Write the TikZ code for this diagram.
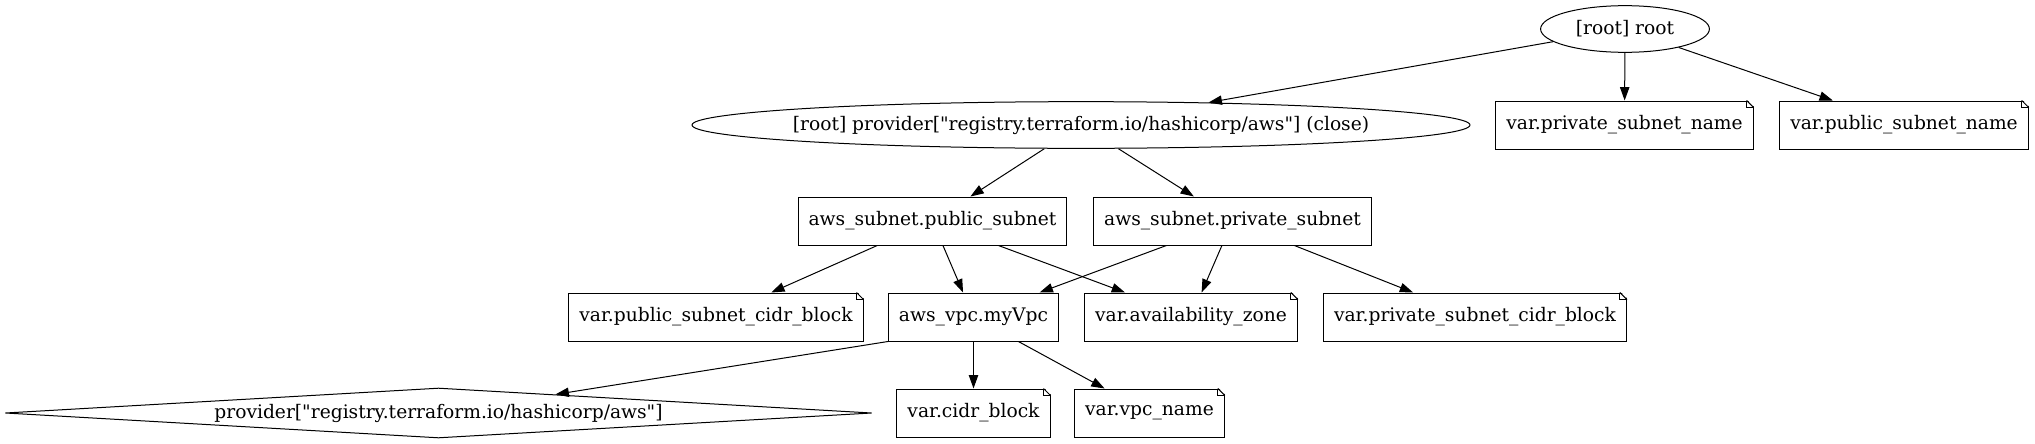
\documentclass[tikz,border=0pt]{standalone}
\usepackage{fontspec}
\setmainfont{DejaVu Serif}[Ligatures=TeXOff]
\usetikzlibrary{shapes.geometric,arrows.meta}

\begin{document}
\begin{tikzpicture}[x=0.75pt, y=-0.75pt,
  every node/.style={font=\fontsize{14}{16}\selectfont},
  res/.style={draw, rectangle, line width=0.75pt, minimum height=36pt, inner xsep=7.9pt},
  note/.style={res},
  oval/.style={draw, ellipse, line width=0.75pt, minimum height=35pt, inner xsep=7.9pt, inner ysep=0pt},
  prov/.style={draw, diamond, line width=0.75pt, aspect=17.3, minimum width=650pt, minimum height=37.5pt, inner sep=0pt},
  edge/.style={-{Triangle[length=10pt,width=7pt]}, line width=0.75pt}]
\useasboundingbox (0, 0) rectangle (2035, 443);

\node[oval, minimum width=117pt] (root) at (1625, 29) {[root] root};
\node[oval, inner xsep=0pt, minimum width=583.5pt] (provclose) at (1081, 125) {\makebox[412pt]{[root] provider["registry.terraform.io/hashicorp/aws"] (close)}};
\node[note] (privname) at (1624.5, 125) {var.private\_subnet\_name};
\node[note] (pubname) at (1904, 125) {var.public\_subnet\_name};

\node[res] (pubsubnet) at (932.5, 221) {aws\_subnet.public\_subnet};
\node[res] (privsubnet) at (1232.5, 221) {aws\_subnet.private\_subnet};

\node[note] (pubcidr) at (716, 317) {var.public\_subnet\_cidr\_block};
\node[res] (vpc) at (973.5, 317) {aws\_vpc.myVpc};
\node[note] (az) at (1191, 317) {var.availability\_zone};
\node[note] (privcidr) at (1475, 317) {var.private\_subnet\_cidr\_block};

\node[prov] (provider) at (438.5, 413) {provider["registry.terraform.io/hashicorp/aws"]};
\node[note] (cidr) at (973.5, 413) {var.cidr\_block};
\node[note] (vpcname) at (1149.5, 413) {var.vpc\_name};

% folded corners of the variable notes
\foreach \n in {privname, pubname, pubcidr, az, privcidr, cidr, vpcname} {
  \fill[white] ([xshift=-5.3pt, yshift=1pt]\n.north east) -- ([xshift=1pt, yshift=1pt]\n.north east) -- ([xshift=1pt, yshift=-5.3pt]\n.north east) -- cycle;
  \draw[line width=0.75pt] ([xshift=-5.3pt]\n.north east) -- ([yshift=-5.3pt]\n.north east);
  \draw[line width=0.75pt] ([xshift=-5.3pt]\n.north east) |- ([yshift=-5.3pt]\n.north east);
}

\draw[edge] (root) -- (provclose);
\draw[edge] (root) -- (privname);
\draw[edge] (root) -- (pubname);

\draw[edge] (provclose) -- (pubsubnet);
\draw[edge] (provclose) -- (privsubnet);

\draw[edge] (pubsubnet) -- (pubcidr);
\draw[edge] (pubsubnet) -- (vpc);
\draw[edge] (pubsubnet) -- (az);
\draw[edge] (privsubnet) -- (vpc);
\draw[edge] (privsubnet) -- (az);
\draw[edge] (privsubnet) -- (privcidr);

\draw[edge] (vpc.south west) -- (provider);
\draw[edge] (vpc) -- (cidr);
\draw[edge] (vpc) -- (vpcname);
\end{tikzpicture}
\end{document}
